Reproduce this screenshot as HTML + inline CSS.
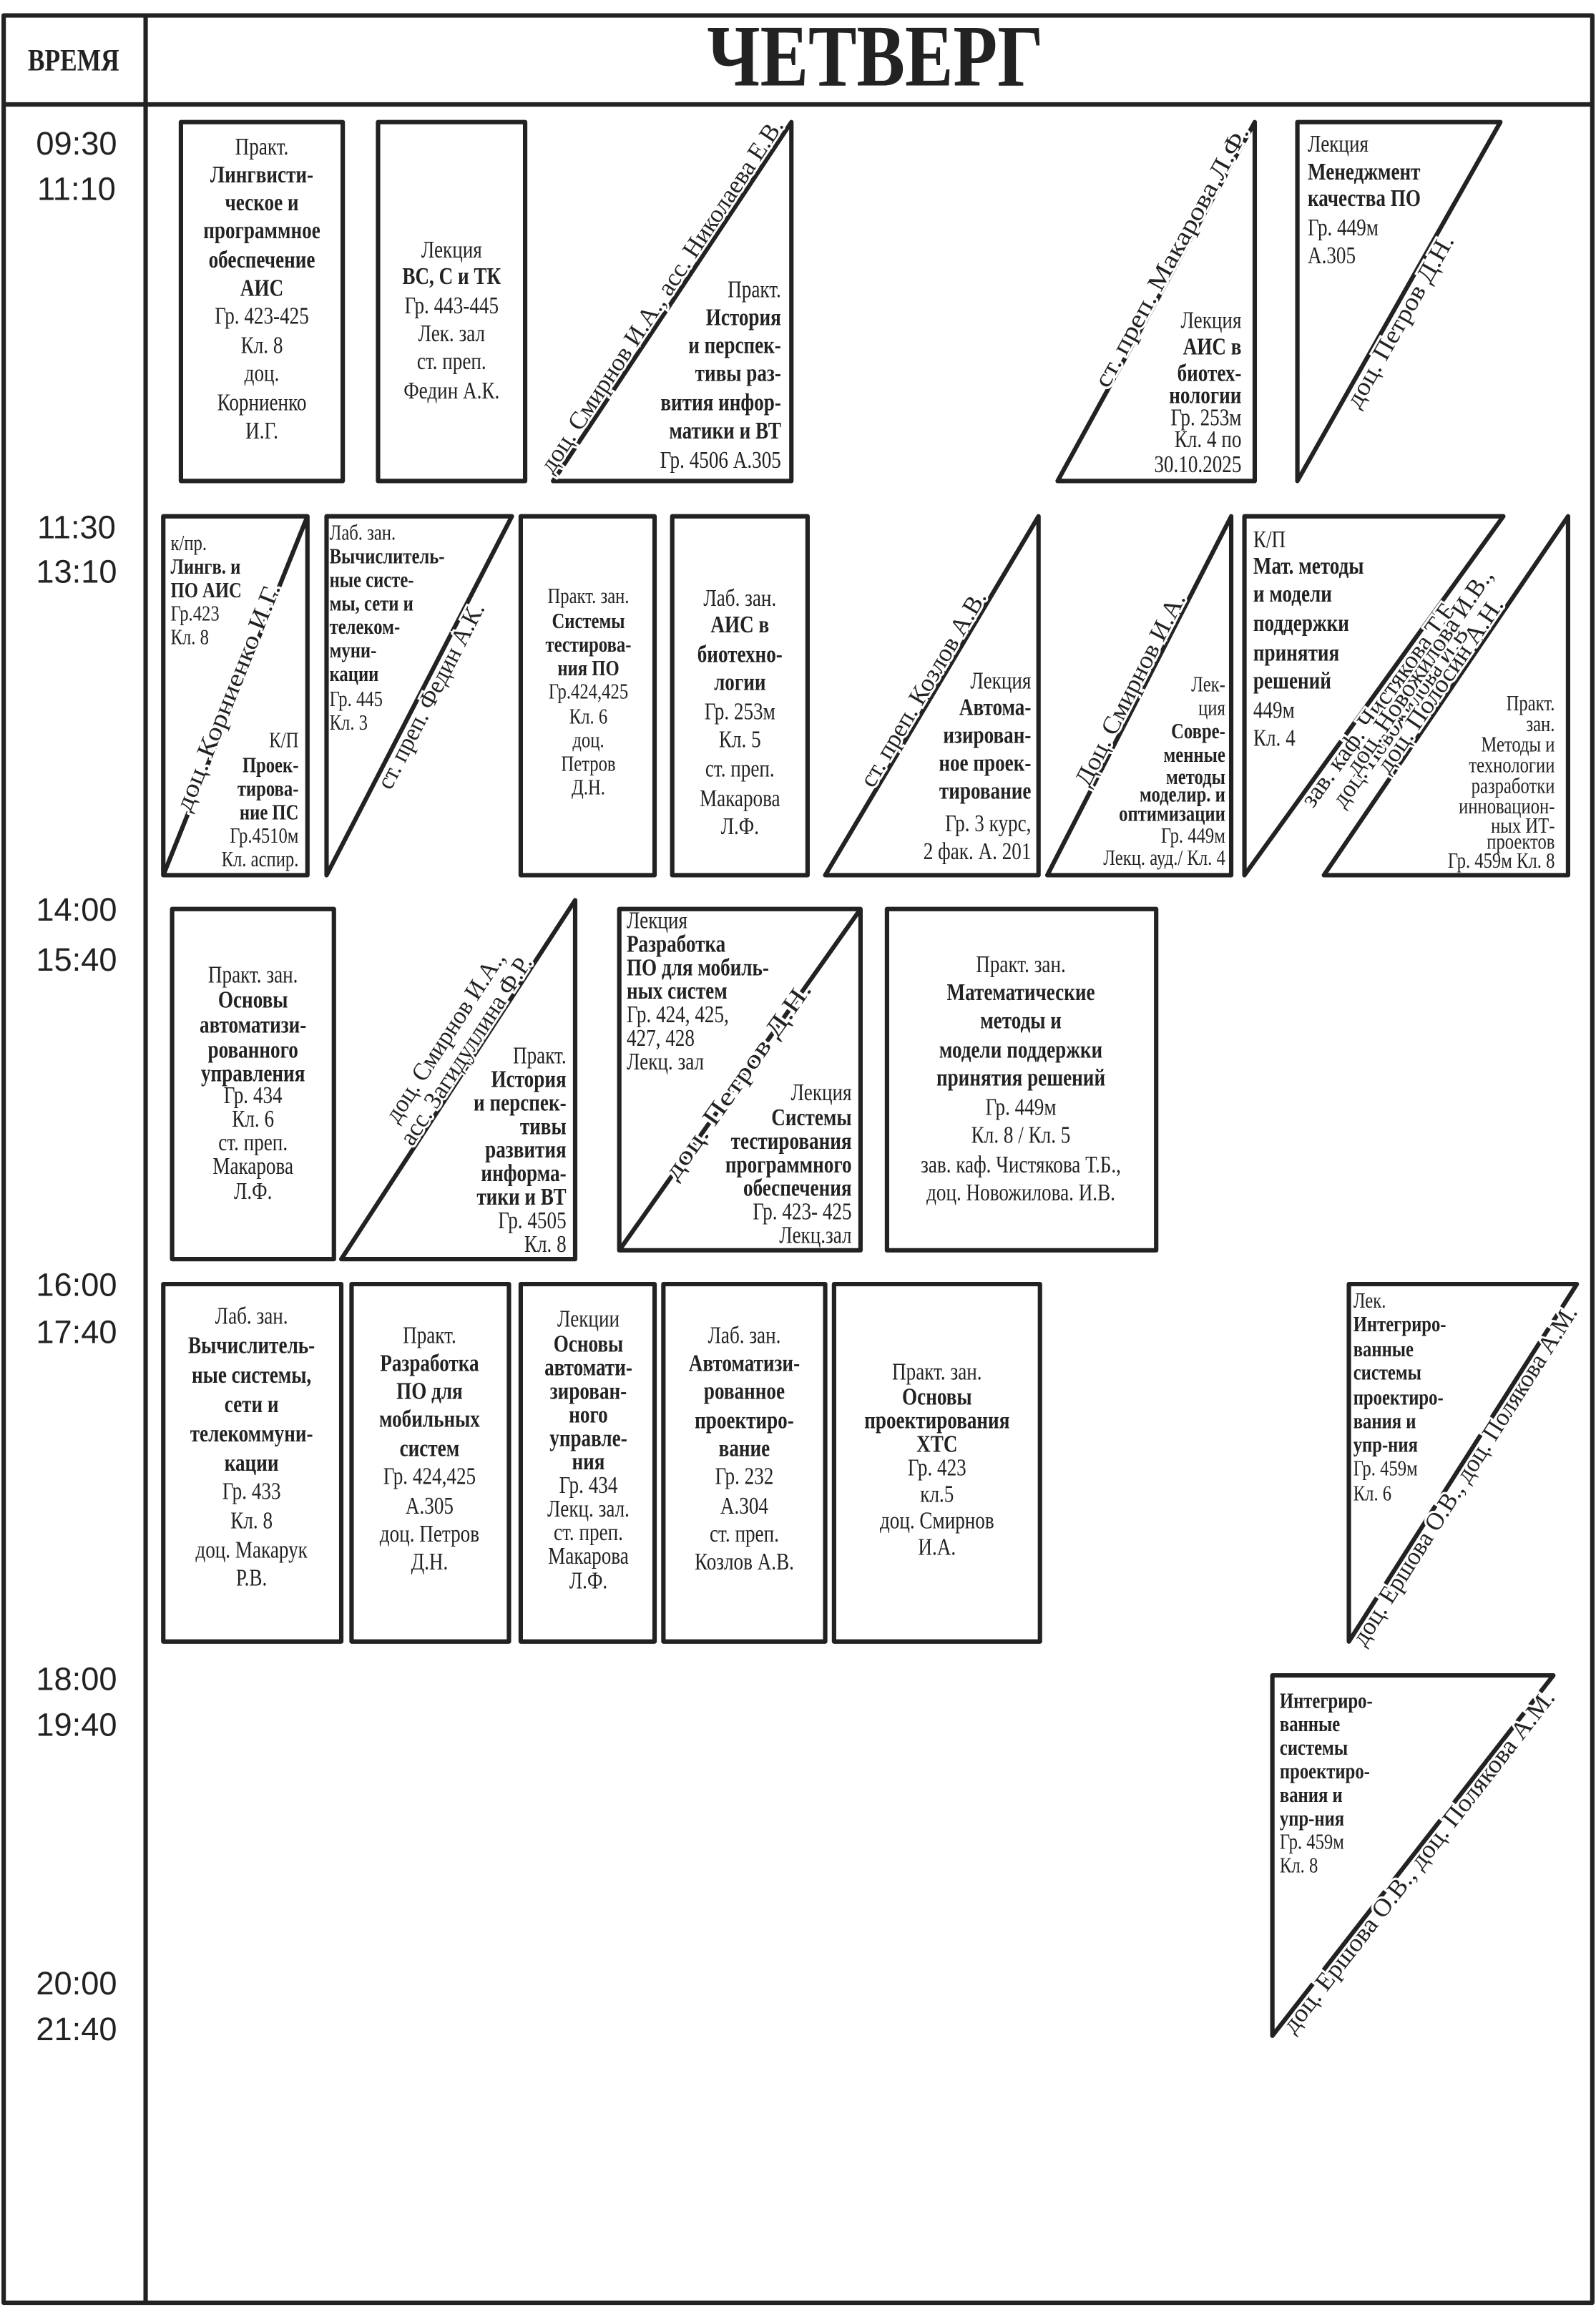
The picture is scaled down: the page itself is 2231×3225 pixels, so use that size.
<!DOCTYPE html>
<html><head><meta charset="utf-8"><style>
html,body{margin:0;padding:0;background:#fff}
svg{display:block}
text{font-family:"Liberation Serif",serif;fill:#222}
.t{font-size:16.5px}
.s{font-size:15px}
.b{font-weight:bold}
.d{font-size:17px;stroke:#fff;stroke-width:3px;paint-order:stroke;}
.tm{font-family:"Liberation Sans",sans-serif;font-size:22px;fill:#222}
</style></head><body>
<svg width="2231" height="3225" viewBox="0 0 1085 1568.4" xmlns="http://www.w3.org/2000/svg">
<g fill="none" stroke="#222" stroke-width="3" stroke-linejoin="round">
<rect x="2.5" y="10.5" width="1080" height="1555"/>
<line x1="2" y1="71" x2="1083" y2="71"/>
<line x1="99" y1="10" x2="99" y2="1565"/>
<rect x="123" y="83" width="110" height="244"/>
<rect x="257" y="83" width="100" height="244"/>
<polygon points="376,327 538,83 538,327"/>
<polygon points="719,327 853,83 853,327"/>
<polygon points="882,327 882,83 1020,83"/>
<rect x="111" y="351" width="98" height="244"/>
<line x1="209" y1="351" x2="111" y2="595"/>
<polygon points="222,351 348,351 222,595"/>
<rect x="354" y="351" width="91" height="244"/>
<rect x="457" y="351" width="92" height="244"/>
<polygon points="561,595 706,351 706,595"/>
<polygon points="712,595 837,351 837,595"/>
<polygon points="846,351 1022,351 846,595"/>
<polygon points="900,595 1066,351 1066,595"/>
<rect x="117" y="618" width="110" height="238"/>
<polygon points="232,856 391,612 391,856"/>
<rect x="421" y="618" width="164" height="232"/>
<line x1="585" y1="618" x2="421" y2="850"/>
<rect x="603" y="618" width="183" height="232"/>
<rect x="111" y="873" width="121" height="243"/>
<rect x="239" y="873" width="107" height="243"/>
<rect x="354" y="873" width="91" height="243"/>
<rect x="451" y="873" width="110" height="243"/>
<rect x="567" y="873" width="140" height="243"/>
<polygon points="917,873 1072,873 917,1116"/>
<polygon points="865,1139 1056,1139 865,1384"/>
</g>

<g transform="translate(50,0) scale(0.82,1)"><text x="0" y="48" text-anchor="middle" font-weight="bold" font-size="21">ВРЕМЯ</text></g>
<g transform="translate(595,0) scale(0.82,1)"><text x="0" y="58" text-anchor="middle" font-weight="bold" font-size="60">ЧЕТВЕРГ</text></g>

<g class="tm" text-anchor="middle">
<text x="52" y="105" class="tm">09:30</text><text x="52" y="136" class="tm">11:10</text>
<text x="52" y="366" class="tm">11:30</text><text x="52" y="396" class="tm">13:10</text>
<text x="52" y="626" class="tm">14:00</text><text x="52" y="660" class="tm">15:40</text>
<text x="52" y="881" class="tm">16:00</text><text x="52" y="913" class="tm">17:40</text>
<text x="52" y="1149" class="tm">18:00</text><text x="52" y="1180" class="tm">19:40</text>
<text x="52" y="1356" class="tm">20:00</text><text x="52" y="1387" class="tm">21:40</text>
</g>

<g transform="translate(178,0) scale(0.8,1)"><text class="t" text-anchor="middle">
<tspan x="0" y="105">Практ.</tspan><tspan x="0" y="124" class="b">Лингвисти-</tspan><tspan x="0" y="143" class="b">ческое и</tspan><tspan x="0" y="162" class="b">программное</tspan><tspan x="0" y="182" class="b">обеспечение</tspan><tspan x="0" y="201" class="b">АИС</tspan><tspan x="0" y="220">Гр. 423-425</tspan><tspan x="0" y="240">Кл. 8</tspan><tspan x="0" y="259">доц.</tspan><tspan x="0" y="279">Корниенко</tspan><tspan x="0" y="298">И.Г.</tspan></text></g>
<g transform="translate(307,0) scale(0.8,1)"><text class="t" text-anchor="middle">
<tspan x="0" y="175">Лекция</tspan><tspan x="0" y="193" class="b">ВС, С и ТК</tspan><tspan x="0" y="213">Гр. 443-445</tspan><tspan x="0" y="232">Лек. зал</tspan><tspan x="0" y="251">ст. преп.</tspan><tspan x="0" y="271">Федин А.К.</tspan></text></g>
<g transform="translate(531,0) scale(0.8,1)"><text class="t" text-anchor="end">
<tspan x="0" y="202">Практ.</tspan><tspan x="0" y="221" class="b">История</tspan><tspan x="0" y="240" class="b">и перспек-</tspan><tspan x="0" y="259" class="b">тивы раз-</tspan><tspan x="0" y="279" class="b">вития инфор-</tspan><tspan x="0" y="298" class="b">матики и ВТ</tspan><tspan x="0" y="318">Гр. 4506 А.305</tspan></text></g>
<g transform="translate(456,205) rotate(-56.4)"><text class="d" x="0" y="-2" text-anchor="middle" textLength="285" lengthAdjust="spacingAndGlyphs">доц. Смирнов И.А., асс. Николаева Е.В.</text></g>
<g transform="translate(844,0) scale(0.8,1)"><text class="t" text-anchor="end">
<tspan x="0" y="223">Лекция</tspan><tspan x="0" y="241" class="b">АИС в</tspan><tspan x="0" y="259" class="b">биотех-</tspan><tspan x="0" y="274" class="b">нологии</tspan><tspan x="0" y="289">Гр. 253м</tspan><tspan x="0" y="304">Кл. 4 по</tspan><tspan x="0" y="321">30.10.2025</tspan></text></g>
<g transform="translate(803,178) rotate(-61.2)"><text class="d" x="0" y="-2" text-anchor="middle" textLength="200" lengthAdjust="spacingAndGlyphs">ст. преп. Макарова Л.Ф.</text></g>
<g transform="translate(889,0) scale(0.8,1)"><text class="t" text-anchor="start">
<tspan x="0" y="103">Лекция</tspan><tspan x="0" y="122" class="b">Менеджмент</tspan><tspan x="0" y="140" class="b">качества ПО</tspan><tspan x="0" y="160">Гр. 449м</tspan><tspan x="0" y="179">А.305</tspan></text></g>
<g transform="translate(946,215) rotate(-60.5)"><text class="d" x="0" y="12" text-anchor="middle" textLength="132" lengthAdjust="spacingAndGlyphs">доц. Петров Д.Н.</text></g>

<g transform="translate(116,0) scale(0.8,1)"><text class="s" text-anchor="start">
<tspan x="0" y="374">к/пр.</tspan><tspan x="0" y="390" class="b">Лингв. и</tspan><tspan x="0" y="406" class="b">ПО АИС</tspan><tspan x="0" y="422">Гр.423</tspan><tspan x="0" y="438">Кл. 8</tspan></text></g>
<g transform="translate(203,0) scale(0.8,1)"><text class="s" text-anchor="end">
<tspan x="0" y="508">К/П</tspan><tspan x="0" y="525" class="b">Проек-</tspan><tspan x="0" y="541" class="b">тирова-</tspan><tspan x="0" y="557" class="b">ние ПС</tspan><tspan x="0" y="573">Гр.4510м</tspan><tspan x="0" y="589">Кл. аспир.</tspan></text></g>
<g transform="translate(160,476) rotate(-68.1)"><text class="d" x="0" y="0" text-anchor="middle" textLength="165" lengthAdjust="spacingAndGlyphs">доц. Корниенко И.Г.</text></g>
<g transform="translate(224,0) scale(0.8,1)"><text class="s" text-anchor="start">
<tspan x="0" y="367">Лаб. зан.</tspan><tspan x="0" y="383" class="b">Вычислитель-</tspan><tspan x="0" y="399" class="b">ные систе-</tspan><tspan x="0" y="415" class="b">мы, сети и</tspan><tspan x="0" y="431" class="b">телеком-</tspan><tspan x="0" y="447" class="b">муни-</tspan><tspan x="0" y="463" class="b">кации</tspan><tspan x="0" y="480">Гр. 445</tspan><tspan x="0" y="496">Кл. 3</tspan></text></g>
<g transform="translate(287,470) rotate(-62.7)"><text class="d" x="0" y="12" text-anchor="middle" textLength="140" lengthAdjust="spacingAndGlyphs">ст. преп. Федин А.К.</text></g>
<g transform="translate(400,0) scale(0.8,1)"><text class="s" text-anchor="middle">
<tspan x="0" y="410">Практ. зан.</tspan><tspan x="0" y="427" class="b">Системы</tspan><tspan x="0" y="443" class="b">тестирова-</tspan><tspan x="0" y="459" class="b">ния ПО</tspan><tspan x="0" y="475">Гр.424,425</tspan><tspan x="0" y="492">Кл. 6</tspan><tspan x="0" y="508">доц.</tspan><tspan x="0" y="524">Петров</tspan><tspan x="0" y="540">Д.Н.</tspan></text></g>
<g transform="translate(503,0) scale(0.8,1)"><text class="t" text-anchor="middle">
<tspan x="0" y="412">Лаб. зан.</tspan><tspan x="0" y="430" class="b">АИС в</tspan><tspan x="0" y="450" class="b">биотехно-</tspan><tspan x="0" y="469" class="b">логии</tspan><tspan x="0" y="489">Гр. 253м</tspan><tspan x="0" y="508">Кл. 5</tspan><tspan x="0" y="528">ст. преп.</tspan><tspan x="0" y="548">Макарова</tspan><tspan x="0" y="567">Л.Ф.</tspan></text></g>
<g transform="translate(701,0) scale(0.8,1)"><text class="t" text-anchor="end">
<tspan x="0" y="468">Лекция</tspan><tspan x="0" y="486" class="b">Автома-</tspan><tspan x="0" y="505" class="b">изирован-</tspan><tspan x="0" y="524" class="b">ное проек-</tspan><tspan x="0" y="543" class="b">тирование</tspan><tspan x="0" y="565">Гр. 3 курс,</tspan><tspan x="0" y="584">2 фак. А. 201</tspan></text></g>
<g transform="translate(634,472) rotate(-59.3)"><text class="d" x="0" y="-2" text-anchor="middle" textLength="152" lengthAdjust="spacingAndGlyphs">ст. преп. Козлов А.В.</text></g>
<g transform="translate(833,0) scale(0.8,1)"><text class="s" text-anchor="end">
<tspan x="0" y="470">Лек-</tspan><tspan x="0" y="486">ция</tspan><tspan x="0" y="502" class="b">Совре-</tspan><tspan x="0" y="518" class="b">менные</tspan><tspan x="0" y="533" class="b">методы</tspan><tspan x="0" y="545" class="b">моделир. и</tspan><tspan x="0" y="558" class="b">оптимизации</tspan><tspan x="0" y="573">Гр. 449м</tspan><tspan x="0" y="588">Лекц. ауд./ Кл. 4</tspan></text></g>
<g transform="translate(775,472) rotate(-62.9)"><text class="d" x="0" y="-2" text-anchor="middle" textLength="145" lengthAdjust="spacingAndGlyphs">Доц. Смирнов И.А.</text></g>
<g transform="translate(852,0) scale(0.8,1)"><text class="t" text-anchor="start">
<tspan x="0" y="372">К/П</tspan><tspan x="0" y="390" class="b">Мат. методы</tspan><tspan x="0" y="409" class="b">и модели</tspan><tspan x="0" y="429" class="b">поддержки</tspan><tspan x="0" y="449" class="b">принятия</tspan><tspan x="0" y="468" class="b">решений</tspan><tspan x="0" y="488">449м</tspan><tspan x="0" y="507">Кл. 4</tspan></text></g>
<g transform="translate(934,472) rotate(-54.2)"><text class="d" x="0" y="12" text-anchor="middle" textLength="175" lengthAdjust="spacingAndGlyphs">зав. каф. Чистякова Т.Б.,</text><text class="d" x="0" y="29" text-anchor="middle" textLength="150" lengthAdjust="spacingAndGlyphs">доц. Новожилова И.В.</text></g>
<g transform="translate(1057,0) scale(0.8,1)"><text class="s" text-anchor="end" font-size="14">
<tspan x="0" y="483">Практ.</tspan><tspan x="0" y="497">зан.</tspan><tspan x="0" y="511">Методы и</tspan><tspan x="0" y="525">технологии</tspan><tspan x="0" y="539">разработки</tspan><tspan x="0" y="553">инновацион-</tspan><tspan x="0" y="566">ных ИТ-</tspan><tspan x="0" y="577">проектов</tspan><tspan x="0" y="590">Гр. 459м Кл. 8</tspan></text></g>
<g transform="translate(985,470) rotate(-55.8)"><text class="d" x="0" y="-19" text-anchor="middle" textLength="165" lengthAdjust="spacingAndGlyphs">доц. Новожилова И.В.,</text><text class="d" x="0" y="-2" text-anchor="middle" textLength="140" lengthAdjust="spacingAndGlyphs">доц. Полосин А.Н.</text></g>

<g transform="translate(172,0) scale(0.8,1)"><text class="t" text-anchor="middle">
<tspan x="0" y="668">Практ. зан.</tspan><tspan x="0" y="685" class="b">Основы</tspan><tspan x="0" y="702" class="b">автоматизи-</tspan><tspan x="0" y="719" class="b">рованного</tspan><tspan x="0" y="735" class="b">управления</tspan><tspan x="0" y="750">Гр. 434</tspan><tspan x="0" y="766">Кл. 6</tspan><tspan x="0" y="782">ст. преп.</tspan><tspan x="0" y="798">Макарова</tspan><tspan x="0" y="815">Л.Ф.</tspan></text></g>
<g transform="translate(385,0) scale(0.8,1)"><text class="t" text-anchor="end">
<tspan x="0" y="723">Практ.</tspan><tspan x="0" y="739" class="b">История</tspan><tspan x="0" y="755" class="b">и перспек-</tspan><tspan x="0" y="771" class="b">тивы</tspan><tspan x="0" y="787" class="b">развития</tspan><tspan x="0" y="803" class="b">информа-</tspan><tspan x="0" y="819" class="b">тики и ВТ</tspan><tspan x="0" y="835">Гр. 4505</tspan><tspan x="0" y="851">Кл. 8</tspan></text></g>
<g transform="translate(323,718) rotate(-56.9)"><text class="d" x="0" y="-19" text-anchor="middle" textLength="135" lengthAdjust="spacingAndGlyphs">доц. Смирнов И.А.,</text><text class="d" x="0" y="-2" text-anchor="middle" textLength="150" lengthAdjust="spacingAndGlyphs">асс. Загидуллина Ф.Р.</text></g>
<g transform="translate(426,0) scale(0.8,1)"><text class="t" text-anchor="start">
<tspan x="0" y="631">Лекция</tspan><tspan x="0" y="647" class="b">Разработка</tspan><tspan x="0" y="663" class="b">ПО для мобиль-</tspan><tspan x="0" y="679" class="b">ных систем</tspan><tspan x="0" y="695">Гр. 424, 425,</tspan><tspan x="0" y="711">427, 428</tspan><tspan x="0" y="727">Лекц. зал</tspan></text></g>
<g transform="translate(579,0) scale(0.8,1)"><text class="t" text-anchor="end">
<tspan x="0" y="748">Лекция</tspan><tspan x="0" y="765" class="b">Системы</tspan><tspan x="0" y="781" class="b">тестирования</tspan><tspan x="0" y="797" class="b">программного</tspan><tspan x="0" y="813" class="b">обеспечения</tspan><tspan x="0" y="829">Гр. 423- 425</tspan><tspan x="0" y="845">Лекц.зал</tspan></text></g>
<g transform="translate(502,735) rotate(-54.7)"><text class="d" x="0" y="5" text-anchor="middle" textLength="160" lengthAdjust="spacingAndGlyphs">доц. Петров Д.Н.</text></g>
<g transform="translate(694,0) scale(0.8,1)"><text class="t" text-anchor="middle">
<tspan x="0" y="661">Практ. зан.</tspan><tspan x="0" y="680" class="b">Математические</tspan><tspan x="0" y="699" class="b">методы и</tspan><tspan x="0" y="719" class="b">модели поддержки</tspan><tspan x="0" y="738" class="b">принятия решений</tspan><tspan x="0" y="758">Гр. 449м</tspan><tspan x="0" y="777">Кл. 8 / Кл. 5</tspan><tspan x="0" y="797">зав. каф. Чистякова Т.Б.,</tspan><tspan x="0" y="816">доц. Новожилова. И.В.</tspan></text></g>

<g transform="translate(171,0) scale(0.8,1)"><text class="t" text-anchor="middle">
<tspan x="0" y="900">Лаб. зан.</tspan><tspan x="0" y="920" class="b">Вычислитель-</tspan><tspan x="0" y="940" class="b">ные системы,</tspan><tspan x="0" y="960" class="b">сети и</tspan><tspan x="0" y="980" class="b">телекоммуни-</tspan><tspan x="0" y="1000" class="b">кации</tspan><tspan x="0" y="1019">Гр. 433</tspan><tspan x="0" y="1039">Кл. 8</tspan><tspan x="0" y="1059">доц. Макарук</tspan><tspan x="0" y="1078">Р.В.</tspan></text></g>
<g transform="translate(292,0) scale(0.8,1)"><text class="t" text-anchor="middle">
<tspan x="0" y="913">Практ.</tspan><tspan x="0" y="932" class="b">Разработка</tspan><tspan x="0" y="951" class="b">ПО для</tspan><tspan x="0" y="970" class="b">мобильных</tspan><tspan x="0" y="990" class="b">систем</tspan><tspan x="0" y="1009">Гр. 424,425</tspan><tspan x="0" y="1029">А.305</tspan><tspan x="0" y="1048">доц. Петров</tspan><tspan x="0" y="1067">Д.Н.</tspan></text></g>
<g transform="translate(400,0) scale(0.8,1)"><text class="t" text-anchor="middle">
<tspan x="0" y="902">Лекции</tspan><tspan x="0" y="919" class="b">Основы</tspan><tspan x="0" y="935" class="b">автомати-</tspan><tspan x="0" y="951" class="b">зирован-</tspan><tspan x="0" y="967" class="b">ного</tspan><tspan x="0" y="983" class="b">управле-</tspan><tspan x="0" y="999" class="b">ния</tspan><tspan x="0" y="1015">Гр. 434</tspan><tspan x="0" y="1031">Лекц. зал.</tspan><tspan x="0" y="1047">ст. преп.</tspan><tspan x="0" y="1063">Макарова</tspan><tspan x="0" y="1080">Л.Ф.</tspan></text></g>
<g transform="translate(506,0) scale(0.8,1)"><text class="t" text-anchor="middle">
<tspan x="0" y="913">Лаб. зан.</tspan><tspan x="0" y="932" class="b">Автоматизи-</tspan><tspan x="0" y="951" class="b">рованное</tspan><tspan x="0" y="971" class="b">проектиро-</tspan><tspan x="0" y="990" class="b">вание</tspan><tspan x="0" y="1009">Гр. 232</tspan><tspan x="0" y="1029">А.304</tspan><tspan x="0" y="1048">ст. преп.</tspan><tspan x="0" y="1067">Козлов А.В.</tspan></text></g>
<g transform="translate(637,0) scale(0.8,1)"><text class="t" text-anchor="middle">
<tspan x="0" y="938">Практ. зан.</tspan><tspan x="0" y="955" class="b">Основы</tspan><tspan x="0" y="971" class="b">проектирования</tspan><tspan x="0" y="987" class="b">ХТС</tspan><tspan x="0" y="1003">Гр. 423</tspan><tspan x="0" y="1021">кл.5</tspan><tspan x="0" y="1039">доц. Смирнов</tspan><tspan x="0" y="1057">И.А.</tspan></text></g>
<g transform="translate(920,0) scale(0.8,1)"><text class="s" text-anchor="start">
<tspan x="0" y="889">Лек.</tspan><tspan x="0" y="905" class="b">Интегриро-</tspan><tspan x="0" y="922" class="b">ванные</tspan><tspan x="0" y="938" class="b">системы</tspan><tspan x="0" y="955" class="b">проектиро-</tspan><tspan x="0" y="971" class="b">вания и</tspan><tspan x="0" y="987" class="b">упр-ния</tspan><tspan x="0" y="1003">Гр. 459м</tspan><tspan x="0" y="1020">Кл. 6</tspan></text></g>
<g transform="translate(991,1000) rotate(-57.5)"><text class="d" x="0" y="11" text-anchor="middle" textLength="270" lengthAdjust="spacingAndGlyphs">доц. Ершова О.В., доц. Полякова А.М.</text></g>

<g transform="translate(870,0) scale(0.8,1)"><text class="s" text-anchor="start">
<tspan x="0" y="1161" class="b">Интегриро-</tspan><tspan x="0" y="1177" class="b">ванные</tspan><tspan x="0" y="1193" class="b">системы</tspan><tspan x="0" y="1209" class="b">проектиро-</tspan><tspan x="0" y="1225" class="b">вания и</tspan><tspan x="0" y="1241" class="b">упр-ния</tspan><tspan x="0" y="1257">Гр. 459м</tspan><tspan x="0" y="1273">Кл. 8</tspan></text></g>
<g transform="translate(960,1262) rotate(-52.1)"><text class="d" x="0" y="11" text-anchor="middle" textLength="290" lengthAdjust="spacingAndGlyphs">доц. Ершова О.В., доц. Полякова А.М.</text></g>
</svg>
</body></html>
